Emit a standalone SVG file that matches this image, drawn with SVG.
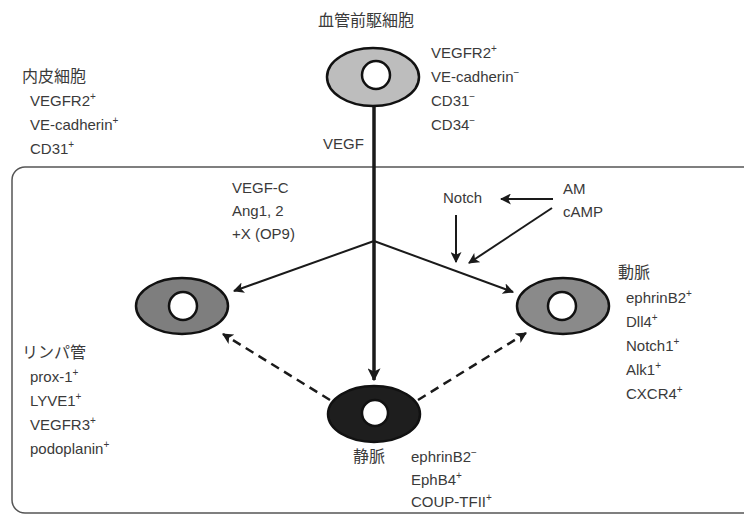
<svg xmlns="http://www.w3.org/2000/svg" width="744" height="517" viewBox="0 0 744 517">
<style>
text{font-family:"Liberation Sans","Noto Sans CJK JP",sans-serif;fill:#3a3a3a;font-size:15px}
.jp{font-size:16px}
.sup{font-size:10px}
.cell{stroke:#111;stroke-width:2.5}
.hole{fill:#fff;stroke:#111;stroke-width:2.5}
.ln{stroke:#1a1a1a;stroke-width:2;fill:none}
.dash{stroke:#1a1a1a;stroke-width:2.5;fill:none;stroke-dasharray:9 6}
</style>
<defs>
<marker id="ah" viewBox="0 0 10 10" refX="9" refY="5" markerWidth="11" markerHeight="11" markerUnits="userSpaceOnUse" orient="auto"><path d="M0,0 L10,5 L0,10 L2.5,5 Z" fill="#1a1a1a"/></marker>
<marker id="ahb" viewBox="0 0 10 10" refX="9" refY="5" markerWidth="13" markerHeight="13" markerUnits="userSpaceOnUse" orient="auto"><path d="M0,0 L10,5 L0,10 L2.5,5 Z" fill="#1a1a1a"/></marker>
</defs>
<rect x="12" y="167" width="745" height="346" rx="13" fill="none" stroke="#555" stroke-width="1.5"/>
<g id="connectors">
<line x1="374" y1="106" x2="374" y2="380" stroke="#1a1a1a" stroke-width="3.5" marker-end="url(#ahb)"/>
<line x1="374" y1="241" x2="234" y2="291" class="ln" marker-end="url(#ah)"/>
<line x1="374" y1="241" x2="513" y2="292" class="ln" marker-end="url(#ah)"/>
<line x1="330" y1="400" x2="223" y2="334" class="dash" marker-end="url(#ah)"/>
<line x1="418" y1="400" x2="526" y2="333" class="dash" marker-end="url(#ah)"/>
<line x1="553" y1="199" x2="501" y2="199" class="ln" marker-end="url(#ah)"/>
<line x1="456" y1="215" x2="456" y2="262" class="ln" marker-end="url(#ah)"/>
<line x1="552" y1="208" x2="469" y2="263" class="ln" marker-end="url(#ah)"/>
</g>
<g id="progenitor">
<text x="318" y="26" class="jp">血管前駆細胞</text>
<ellipse cx="373" cy="77" rx="46" ry="29" fill="#bdbdbd" class="cell"/>
<circle cx="376" cy="75" r="14" class="hole"/>
<text x="431" y="58">VEGFR2<tspan class="sup" dy="-6">+</tspan></text>
<text x="431" y="82">VE-cadherin<tspan class="sup" dy="-6">−</tspan></text>
<text x="431" y="106">CD31<tspan class="sup" dy="-6">−</tspan></text>
<text x="431" y="130">CD34<tspan class="sup" dy="-6">−</tspan></text>
</g>
<g id="endothelial">
<text x="22" y="82" class="jp">内皮細胞</text>
<text x="30" y="106">VEGFR2<tspan class="sup" dy="-6">+</tspan></text>
<text x="30" y="130">VE-cadherin<tspan class="sup" dy="-6">+</tspan></text>
<text x="30" y="154">CD31<tspan class="sup" dy="-6">+</tspan></text>
</g>
<g id="labels">
<text x="323" y="149">VEGF</text>
<text x="232" y="193">VEGF-C</text>
<text x="232" y="216">Ang1, 2</text>
<text x="232" y="239">+X (OP9)</text>
<text x="443" y="203">Notch</text>
<text x="563" y="194">AM</text>
<text x="563" y="217">cAMP</text>
</g>
<g id="lymph">
<ellipse cx="182" cy="306" rx="46" ry="28" fill="#7e7e7e" class="cell"/>
<circle cx="183" cy="306" r="14" class="hole"/>
<text x="22" y="358" class="jp">リンパ管</text>
<text x="30" y="382">prox-1<tspan class="sup" dy="-6">+</tspan></text>
<text x="30" y="406">LYVE1<tspan class="sup" dy="-6">+</tspan></text>
<text x="30" y="430">VEGFR3<tspan class="sup" dy="-6">+</tspan></text>
<text x="30" y="454">podoplanin<tspan class="sup" dy="-6">+</tspan></text>
</g>
<g id="artery">
<ellipse cx="563" cy="306" rx="46" ry="28" fill="#8a8a8a" class="cell"/>
<circle cx="562" cy="306" r="14" class="hole"/>
<text x="618" y="278" class="jp">動脈</text>
<text x="626" y="303">ephrinB2<tspan class="sup" dy="-6">+</tspan></text>
<text x="626" y="327">Dll4<tspan class="sup" dy="-6">+</tspan></text>
<text x="626" y="351">Notch1<tspan class="sup" dy="-6">+</tspan></text>
<text x="626" y="375">Alk1<tspan class="sup" dy="-6">+</tspan></text>
<text x="626" y="399">CXCR4<tspan class="sup" dy="-6">+</tspan></text>
</g>
<g id="vein">
<ellipse cx="374" cy="414" rx="46" ry="28" fill="#1e1e1e" class="cell"/>
<circle cx="375" cy="413" r="13" class="hole"/>
<text x="353" y="462" class="jp">静脈</text>
<text x="411" y="462">ephrinB2<tspan class="sup" dy="-6">−</tspan></text>
<text x="411" y="485">EphB4<tspan class="sup" dy="-6">+</tspan></text>
<text x="411" y="507">COUP-TFII<tspan class="sup" dy="-6">+</tspan></text>
</g>
</svg>
